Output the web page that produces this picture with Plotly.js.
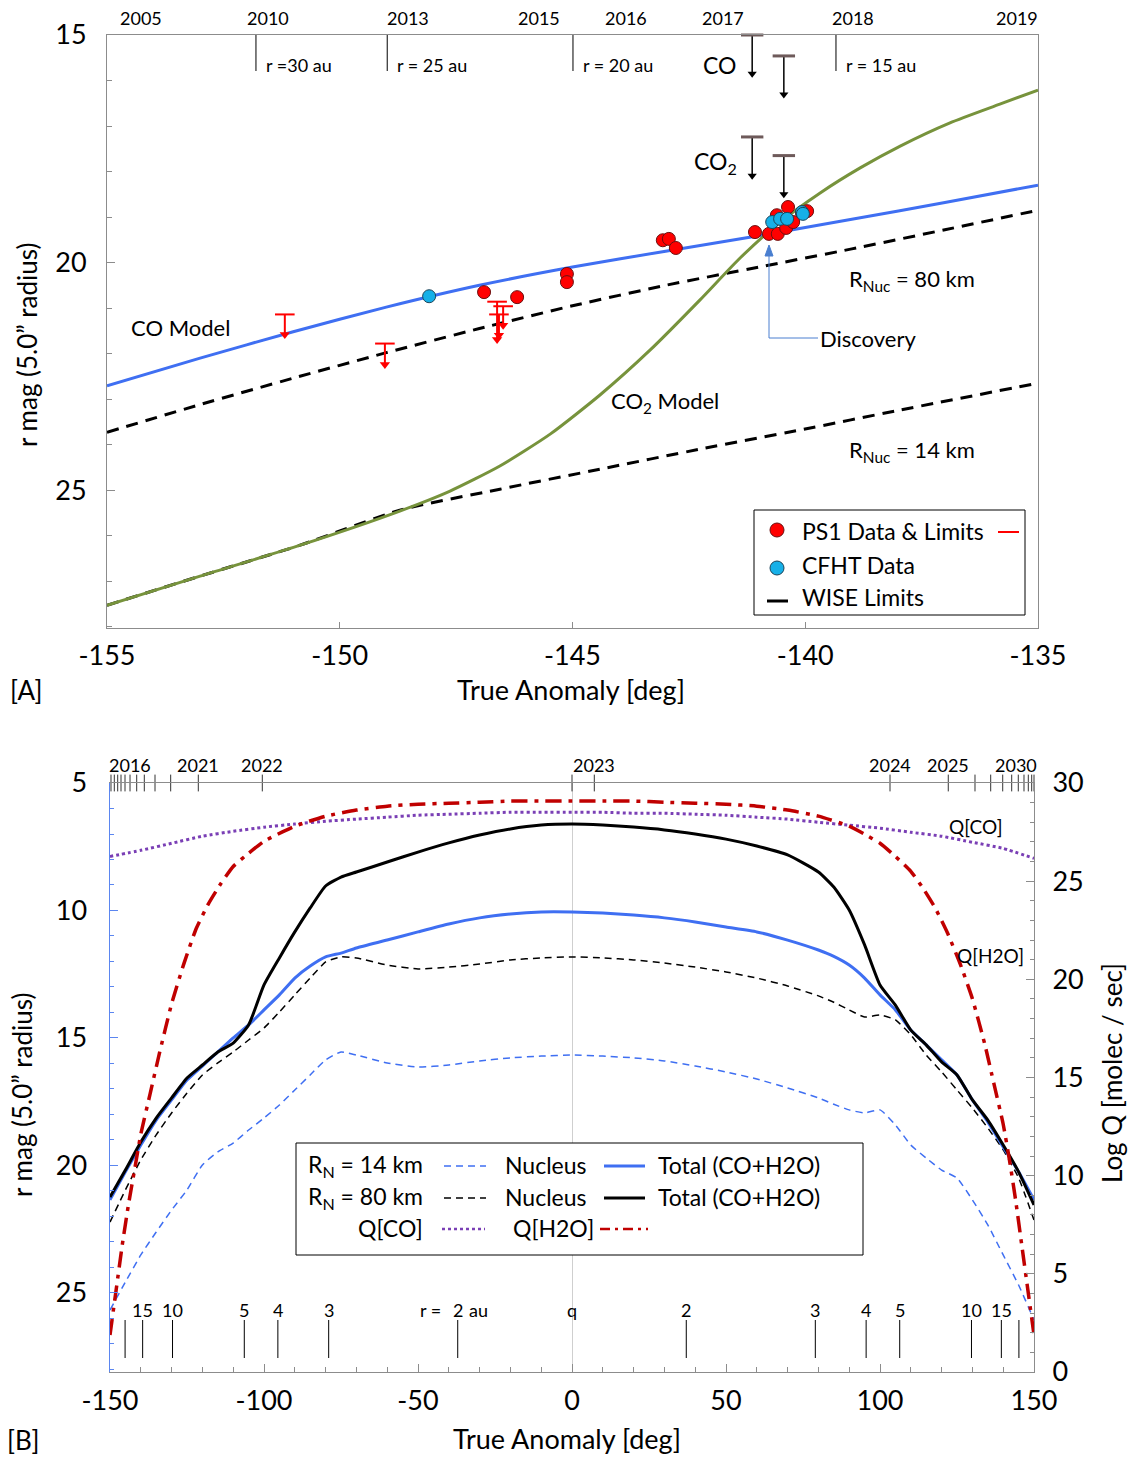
<!DOCTYPE html>
<html><head><meta charset="utf-8">
<script src="https://cdn.plot.ly/plotly-3.0.1.min.js"></script>
<style>html,body{margin:0;padding:0;background:#fff}#chart{width:1131px;height:1457px}</style>
</head><body><div id="chart"></div>
<script>
// ---------- Panel A data ----------
const coModelTA  = [-155,-153,-151,-149,-147,-145,-143,-141,-139,-137,-135];
const coModelMag = [22.71,22.10,21.52,20.98,20.50,20.10,19.75,19.41,19.05,18.68,18.30];
const co2ModelTA  = [-155,-153,-150.85,-148.71,-147.63,-146.56,-145.48,-144.41,-143.33,-142.26,-141.40,-140.54,-139.68,-138.82,-137.96,-136.89,-135.82,-135];
const co2ModelMag = [27.53,26.89,26.21,25.46,25.02,24.47,23.77,22.91,21.92,20.82,19.90,19.11,18.47,17.92,17.44,16.93,16.52,16.21];
const nuc80TA  = [-155,-153,-151,-149,-147,-145,-143,-141,-139,-137,-135];
const nuc80Mag = [23.73,23.12,22.54,21.98,21.45,20.95,20.50,20.10,19.70,19.28,18.85];
const nuc14TA  = [-155,-153,-150.85,-148.71,-146.56,-144.41,-142.26,-140.11,-137.96,-135];
const nuc14Mag = [27.53,26.89,26.21,25.44,24.98,24.54,24.10,23.68,23.24,22.65];
const ps1TA  = [-146.90,-146.19,-145.12,-145.12,-143.06,-142.93,-142.78,-141.08,-140.78,-140.59,-140.41,-140.37,-140.61,-139.96,-140.26,-140.07];
const ps1Mag = [20.65,20.76,20.25,20.43,19.51,19.48,19.68,19.33,19.37,19.37,19.24,18.78,18.96,18.87,19.11,18.91];
const cfhtTA  = [-148.08,-140.71,-140.54,-140.39,-140.07,-140.05];
const cfhtMag = [20.74,19.11,19.04,19.04,18.89,18.93];
const ps1LimTA  = [-151.18,-149.03,-146.62,-146.49,-146.58];
const ps1LimMag = [21.14,21.78,20.86,20.96,21.14];
const ps1LimTip = [21.58,22.24,21.69,21.38,21.60];
const wiseTA  = [-141.14,-140.46,-141.14,-140.46];   // CO, CO, CO2, CO2
const wiseMag = [15.00,15.46,17.24,17.65];
const wiseTip = [15.85,16.31,18.09,18.50];
const topYears   = ['2005','2010','2013','2015','2016','2017','2018','2019'];
const topYearTA  = [-154.27,-151.54,-148.53,-145.72,-143.85,-141.77,-138.97,-135.45];
const topRTA     = [-151.8,-148.98,-144.99,-139.34];
const topRLabels = ['r =30 au','r = 25 au','r = 20 au','r = 15 au'];

// ---------- Panel B data ----------
const gridTA = [-150,-145,-140,-135,-130,-125,-120,-115,-110,-105,-100,-95,-90,-85,-80,-75,-70,-60,-50,-40,-30,-20,-10,0,10,20,30,40,50,60,70,80,85,90,95,100,105,110,115,120,125,130,135,140,145,150];
const tot80Mag = [21.24,20.18,19.08,18.14,17.35,16.57,16.06,15.55,15.20,14.49,12.92,11.86,10.84,9.90,9.04,8.69,8.49,8.10,7.71,7.35,7.04,6.80,6.65,6.61,6.65,6.73,6.84,7.00,7.20,7.47,7.82,8.49,9.08,9.98,11.35,12.92,13.71,14.69,15.27,15.94,16.45,17.43,18.22,19.20,20.25,21.55];
const tot14Mag = [21.35,20.25,19.20,18.22,17.43,16.65,16.10,15.55,15.00,14.49,13.90,13.31,12.65,12.18,11.82,11.67,11.47,11.16,10.84,10.53,10.29,10.14,10.06,10.06,10.10,10.18,10.29,10.45,10.65,10.84,11.16,11.55,11.80,12.14,12.65,13.31,13.90,14.69,15.27,15.86,16.45,17.43,18.29,19.27,20.25,21.35];
const nucB80Mag = [22.22,20.96,19.78,18.80,17.94,17.16,16.45,15.98,15.55,15.08,14.61,13.98,13.31,12.65,12.02,11.82,11.86,12.14,12.29,12.22,12.10,11.94,11.86,11.82,11.86,11.94,12.06,12.22,12.41,12.65,12.96,13.35,13.60,13.90,14.18,14.10,14.29,14.88,15.67,16.33,17.04,17.75,18.53,19.39,20.49,22.14];
const nucB14Mag = [25.67,24.57,23.51,22.61,21.75,20.96,19.98,19.47,19.12,18.61,18.14,17.63,17.04,16.45,15.86,15.55,15.67,15.98,16.14,16.06,15.90,15.78,15.71,15.67,15.71,15.78,15.90,16.10,16.33,16.61,16.96,17.35,17.60,17.82,17.94,17.82,18.41,19.20,19.71,20.18,20.49,21.35,22.33,23.51,24.69,26.06];
const qcoTA = [-150,-140,-130,-120,-110,-100,-90,-80,-70,-60,-50,-40,-30,-20,-10,0,10,20,30,40,50,60,70,80,90,100,110,120,130,140,150];
const qcoLogQ = [26.26,26.57,26.93,27.29,27.54,27.75,27.91,28.05,28.16,28.26,28.36,28.41,28.46,28.51,28.51,28.51,28.51,28.46,28.46,28.41,28.36,28.26,28.16,28.00,27.85,27.70,27.49,27.29,26.98,26.67,26.16];
const h2oTA = [-150,-148,-146,-144,-142,-140,-137,-134,-130,-126,-122,-118,-114,-110,-105,-100,-90,-80,-70,-60,-50,-40,-30,-20,-10,0,10,20,30,40,50,60,70,80,90,95,100,105,110,114,118,122,126,130,134,137,140,142,144,146,148,150];
const h2oLogQ = [1.89,4.19,6.49,8.53,10.32,12.11,14.15,16.20,18.75,20.80,22.59,23.86,24.88,25.75,26.42,27.03,27.80,28.31,28.62,28.82,28.92,28.97,29.02,29.08,29.08,29.08,29.08,29.08,29.02,28.97,28.92,28.82,28.62,28.31,27.80,27.39,26.93,26.26,25.50,24.63,23.61,22.33,20.80,19.01,16.71,14.67,12.62,10.83,8.79,6.49,4.19,1.89];
const yearTickTA = [-149.68,-148.6,-147.5,-146.43,-145.13,-143.5,-141.33,-138.86,-135.39,-130.3,-121.33,-100.55,0,7.24,103.25,122.17,130.84,135.94,139.84,142.76,144.9,146.75,148.15,149.25,150];
const botYears  = ['2016','2021','2022','2023','2024','2025','2030'];
const botYearTA = [-143.5,-121.33,-100.55,7.24,103.25,122.17,144.2];
const rMarkTA     = [-145.1,-139.4,-129.7,-106.4,-95.5,-79,-37.1,0,37.1,79,95.5,106.4,129.7,139.4,145.1];
const rMarkLabels = ['','15','10','5','4','3','2','q','2','3','4','5','10','15',''];

// ---------- layout helpers ----------
const W = 1131, H = 1457;
const FX = v => v / W, FY = v => 1 - v / H;
const FONT = 'Lato, "Open Sans", sans-serif';
const BLUE = '#3f6ff2', GREEN = '#77933c', RED = '#ff0000', CYAN = '#16b0e8', DRED = '#c00000', PURPLE = '#7a3fb5';

// arrow stems (cap -> tip) built from the limit arrays, separated by gaps
const stems = (xs, y0s, y1s) => {
  const X = [], Y = [];
  xs.forEach((v,i) => { X.push(v, v, null); Y.push(y0s[i], y1s[i], null); });
  return {X, Y};
};
const ps1Stem = stems(ps1LimTA, ps1LimMag, ps1LimTip);
const wiseStem = stems(wiseTA, wiseMag, wiseTip);

const traces = [
  {x: nuc14TA, y: nuc14Mag, xaxis:'x', yaxis:'y', mode:'lines', line:{color:'#000', width:3, dash:'12px,8px', shape:'spline', smoothing:0.6}},
  {x: nuc80TA, y: nuc80Mag, xaxis:'x', yaxis:'y', mode:'lines', line:{color:'#000', width:3, dash:'12px,8px', shape:'spline', smoothing:0.6}},
  {x: coModelTA, y: coModelMag, xaxis:'x', yaxis:'y', mode:'lines', line:{color:BLUE, width:3, shape:'spline', smoothing:0.6}},
  {x: co2ModelTA, y: co2ModelMag, xaxis:'x', yaxis:'y', mode:'lines', line:{color:GREEN, width:3, shape:'spline', smoothing:0.6}},
  // PS1 limits: stems, caps, arrowheads
  {x: ps1Stem.X, y: ps1Stem.Y, xaxis:'x', yaxis:'y', mode:'lines', line:{color:RED, width:2}, connectgaps:false},
  {x: ps1LimTA, y: ps1LimMag, xaxis:'x', yaxis:'y', mode:'markers', marker:{symbol:'line-ew', size:14, line:{color:RED, width:2}}, cliponaxis:false},
  {x: ps1LimTA, y: ps1LimTip, xaxis:'x', yaxis:'y', mode:'markers', marker:{symbol:'triangle-down', size:9, color:RED, line:{width:0}}},
  // WISE limits
  {x: wiseStem.X, y: wiseStem.Y, xaxis:'x', yaxis:'y', mode:'lines', line:{color:'#000', width:1.5}, connectgaps:false, cliponaxis:false},
  {x: wiseTA, y: wiseMag, xaxis:'x', yaxis:'y', mode:'markers', marker:{symbol:'line-ew', size:16, line:{color:'#6e5a5a', width:3}}, cliponaxis:false},
  {x: wiseTA, y: wiseTip, xaxis:'x', yaxis:'y', mode:'markers', marker:{symbol:'triangle-down', size:8, color:'#000', line:{width:0}}},
  // data points
  {x: ps1TA, y: ps1Mag, xaxis:'x', yaxis:'y', mode:'markers', marker:{symbol:'circle', size:13, color:RED, line:{color:'#6a1010', width:1}}},
  {x: cfhtTA, y: cfhtMag, xaxis:'x', yaxis:'y', mode:'markers', marker:{symbol:'circle', size:13, color:CYAN, line:{color:'#1c4358', width:1}}},
  // Panel B
  {x: gridTA, y: nucB14Mag, xaxis:'x2', yaxis:'y2', mode:'lines', line:{color:BLUE, width:1.5, dash:'7px,5px', shape:'spline', smoothing:0.5}},
  {x: gridTA, y: nucB80Mag, xaxis:'x2', yaxis:'y2', mode:'lines', line:{color:'#000', width:1.5, dash:'7px,5px', shape:'spline', smoothing:0.5}},
  {x: gridTA, y: tot14Mag, xaxis:'x2', yaxis:'y2', mode:'lines', line:{color:BLUE, width:3, shape:'spline', smoothing:0.5}},
  {x: gridTA, y: tot80Mag, xaxis:'x2', yaxis:'y2', mode:'lines', line:{color:'#000', width:3, shape:'spline', smoothing:0.5}},
  {x: qcoTA, y: qcoLogQ, xaxis:'x2', yaxis:'y3', mode:'lines', line:{color:PURPLE, width:3, dash:'dot', shape:'spline', smoothing:0.5}},
  {x: h2oTA, y: h2oLogQ, xaxis:'x2', yaxis:'y3', mode:'lines', line:{color:DRED, width:3.5, dash:'16px,7px,4px,7px', shape:'spline', smoothing:0.5}},
  {x: yearTickTA, y: yearTickTA.map(() => 5), xaxis:'x2', yaxis:'y2', mode:'markers', marker:{symbol:'line-ns', size:12, line:{color:'#333', width:1}}, cliponaxis:false}
];

const ann = [];
const shapes = [];
const txt = (x, y, text, size, opts={}) => Object.assign({xref:'paper', yref:'paper', x:FX(x), y:FY(y), text, showarrow:false, font:{family:FONT, size, color:'#000'}, xanchor:'center', yanchor:'middle'}, opts);

// Panel A decorations
topYears.forEach((t,i) => ann.push({xref:'x', yref:'paper', x:topYearTA[i], y:FY(18), text:t, showarrow:false, font:{family:FONT, size:18, color:'#000'}, yanchor:'middle'}));
topRTA.forEach((v,i) => {
  shapes.push({type:'line', xref:'x', yref:'paper', x0:v, x1:v, y0:FY(35), y1:FY(71), line:{color:'#000', width:1}});
  ann.push({xref:'x', yref:'paper', x:v, y:FY(65), xanchor:'left', xshift:8, text:topRLabels[i], showarrow:false, font:{family:FONT, size:18, color:'#000'}, yanchor:'middle'});
});
ann.push(txt(719, 65, 'CO', 23));
ann.push(txt(715, 163, 'CO<sub>2</sub>', 23));
ann.push(txt(180, 327, 'CO Model', 22));
ann.push(txt(665, 402, 'CO<sub>2</sub> Model', 22));
ann.push(txt(847, 280, 'R<sub>Nuc</sub> = 80 km', 22, {xanchor:'left'}));
ann.push(txt(847, 451, 'R<sub>Nuc</sub> = 14 km', 22, {xanchor:'left'}));
ann.push(txt(818, 338, 'Discovery', 22, {xanchor:'left'}));
shapes.push({type:'line', xref:'paper', yref:'paper', x0:FX(769), x1:FX(818), y0:FY(338), y1:FY(338), line:{color:'#4a7fd0', width:1}});
shapes.push({type:'line', xref:'paper', yref:'paper', x0:FX(769), x1:FX(769), y0:FY(338), y1:FY(254), line:{color:'#4a7fd0', width:1}});
shapes.push({type:'path', xref:'paper', yref:'paper', path:`M ${FX(765)} ${FY(256)} L ${FX(769)} ${FY(245)} L ${FX(773)} ${FY(256)} Z`, fillcolor:'#4a7fd0', line:{color:'#4a7fd0', width:1}});
// legend A
shapes.push({type:'rect', xref:'paper', yref:'paper', x0:FX(754), x1:FX(1025), y0:FY(510), y1:FY(615), line:{color:'#000', width:1}, fillcolor:'#fff', layer:'above'});
shapes.push({type:'circle', xref:'paper', yref:'paper', x0:FX(770), x1:FX(784), y0:FY(523), y1:FY(537), fillcolor:RED, line:{color:'#6a1010', width:1}, layer:'above'});
shapes.push({type:'circle', xref:'paper', yref:'paper', x0:FX(770), x1:FX(784), y0:FY(561), y1:FY(575), fillcolor:CYAN, line:{color:'#1c4358', width:1}, layer:'above'});
shapes.push({type:'line', xref:'paper', yref:'paper', x0:FX(998), x1:FX(1019), y0:FY(532), y1:FY(532), line:{color:RED, width:2}, layer:'above'});
shapes.push({type:'line', xref:'paper', yref:'paper', x0:FX(767), x1:FX(788), y0:FY(601), y1:FY(601), line:{color:'#000', width:3}, layer:'above'});
ann.push(txt(800, 531, 'PS1 Data &amp; Limits', 23, {xanchor:'left'}));
ann.push(txt(800, 565, 'CFHT Data', 23, {xanchor:'left'}));
ann.push(txt(800, 597, 'WISE Limits', 23, {xanchor:'left'}));
// axis titles A
ann.push(txt(27, 345, 'r mag (5.0” radius)', 26, {textangle:-90}));
ann.push(txt(571, 690, 'True Anomaly [deg]', 27));
ann.push(txt(8, 690, '[A]', 26, {xanchor:'left'}));

// Panel B decorations
botYears.forEach((t,i) => ann.push({xref:'x2', yref:'paper', x:botYearTA[i], y:FY(765), text:t, showarrow:false, font:{family:FONT, size:18, color:'#000'}, yanchor:'middle'}));
rMarkTA.forEach((v,i) => {
  if (rMarkLabels[i] !== 'q') shapes.push({type:'line', xref:'x2', yref:'paper', x0:v, x1:v, y0:FY(1320), y1:FY(1358), line:{color:'#000', width:1}});
  if (rMarkLabels[i]) ann.push({xref:'x2', yref:'paper', x:v, y:FY(1310), text:rMarkLabels[i], showarrow:false, font:{family:FONT, size:18, color:'#000'}, yanchor:'middle'});
});
ann.push({xref:'x2', yref:'paper', x:-37.1, y:FY(1310), xanchor:'right', xshift:-10, text:'r = ', showarrow:false, font:{family:FONT, size:18, color:'#000'}, yanchor:'middle'});
ann.push({xref:'x2', yref:'paper', x:-37.1, y:FY(1310), xanchor:'left', xshift:9, text:'au', showarrow:false, font:{family:FONT, size:18, color:'#000'}, yanchor:'middle'});
ann.push(txt(976, 826, 'Q[CO]', 19));
ann.push(txt(990, 955, 'Q[H2O]', 19));
// legend B
shapes.push({type:'rect', xref:'paper', yref:'paper', x0:FX(296), x1:FX(863), y0:FY(1143), y1:FY(1255), line:{color:'#000', width:1}, fillcolor:'#fff', layer:'above'});
const legLine = (x0, x1, y, color, width, dash) => shapes.push({type:'line', xref:'paper', yref:'paper', x0:FX(x0), x1:FX(x1), y0:FY(y), y1:FY(y), line:{color, width, dash}, layer:'above'});
legLine(444, 486, 1166, BLUE, 1.5, '7px,5px');
legLine(604, 645, 1166, BLUE, 3, 'solid');
legLine(444, 486, 1198, '#000', 1.5, '7px,5px');
legLine(604, 645, 1198, '#000', 3, 'solid');
legLine(442, 485, 1229, PURPLE, 2.5, 'dot');
legLine(600, 648, 1229, DRED, 2.5, '10px,5px,3px,5px');
ann.push(txt(306, 1165, 'R<sub>N</sub> = 14 km', 23, {xanchor:'left'}));
ann.push(txt(503, 1165, 'Nucleus', 23, {xanchor:'left'}));
ann.push(txt(656, 1165, 'Total (CO+H2O)', 23, {xanchor:'left'}));
ann.push(txt(306, 1197, 'R<sub>N</sub> = 80 km', 23, {xanchor:'left'}));
ann.push(txt(503, 1197, 'Nucleus', 23, {xanchor:'left'}));
ann.push(txt(656, 1197, 'Total (CO+H2O)', 23, {xanchor:'left'}));
ann.push(txt(425, 1228, 'Q[CO]', 23, {xanchor:'right'}));
ann.push(txt(511, 1228, 'Q[H2O]', 23, {xanchor:'left'}));
// axis titles B
ann.push(txt(22, 1095, 'r mag (5.0” radius)', 26, {textangle:-90}));
ann.push(txt(1112, 1073, 'Log Q [molec / sec]', 26, {textangle:-90}));
ann.push(txt(567, 1438, 'True Anomaly [deg]', 27));
ann.push(txt(5, 1440, '[B]', 26, {xanchor:'left'}));

const tickF = {family:FONT, size:27, color:'#000'};
const layout = {
  width:W, height:H, margin:{l:0,r:0,t:0,b:0}, showlegend:false,
  paper_bgcolor:'#fff', plot_bgcolor:'#fff', font:{family:FONT, color:'#000'},
  xaxis:{domain:[FX(107),FX(1038)], anchor:'y', range:[-155,-135], tickvals:[-155,-150,-145,-140,-135], ticktext:['-155','-150','-145','-140','-135'],
    showline:true, linecolor:'#8c8c8c', linewidth:1, mirror:true, ticks:'inside', ticklen:6, tickcolor:'#8c8c8c', showgrid:false, zeroline:false, tickfont:tickF, ticklabelstandoff:4},
  yaxis:{domain:[FY(628),FY(35)], anchor:'x', range:[28.03,15], tickvals:[15,20,25],
    showline:true, linecolor:'#8c8c8c', linewidth:1, mirror:true, ticks:'inside', ticklen:8, tickcolor:'#8c8c8c', showgrid:false, zeroline:false, tickfont:tickF, ticklabelstandoff:14,
    minor:{dtick:1, ticks:'inside', ticklen:5, tickcolor:'#8c8c8c', showgrid:false}},
  xaxis2:{domain:[FX(110),FX(1034)], anchor:'y2', range:[-150,150], tickvals:[-150,-100,-50,0,50,100,150], ticktext:['-150','-100','-50','0','50','100','150'],
    showline:true, linecolor:'#8c8c8c', linewidth:1, mirror:true, ticks:'inside', ticklen:8, tickcolor:'#8c8c8c', showgrid:false, zeroline:true, zerolinecolor:'#cfcfcf', zerolinewidth:1, tickfont:tickF, ticklabelstandoff:5,
    minor:{dtick:10, ticks:'inside', ticklen:5, tickcolor:'#8c8c8c', showgrid:false}},
  yaxis2:{domain:[FY(1372),FY(783)], anchor:'x2', range:[28.1,5], tickvals:[5,10,15,20,25],
    showline:true, linecolor:'#5b86f0', linewidth:1.5, ticks:'inside', ticklen:8, tickcolor:'#5b86f0', showgrid:false, zeroline:false, tickfont:tickF, ticklabelstandoff:16,
    minor:{dtick:1, ticks:'inside', ticklen:4, tickcolor:'#5b86f0', showgrid:false}},
  yaxis3:{overlaying:'y2', side:'right', anchor:'x2', range:[0,30], tickvals:[0,5,10,15,20,25,30],
    showline:true, linecolor:'#8c8c8c', linewidth:1, ticks:'inside', ticklen:8, tickcolor:'#8c8c8c', showgrid:false, zeroline:false, tickfont:tickF, ticklabelstandoff:12,
    minor:{dtick:1, ticks:'inside', ticklen:4, tickcolor:'#8c8c8c', showgrid:false}},
  annotations: ann, shapes: shapes
};
Plotly.newPlot('chart', traces, layout, {staticPlot:true, displayModeBar:false});
</script></body></html>
